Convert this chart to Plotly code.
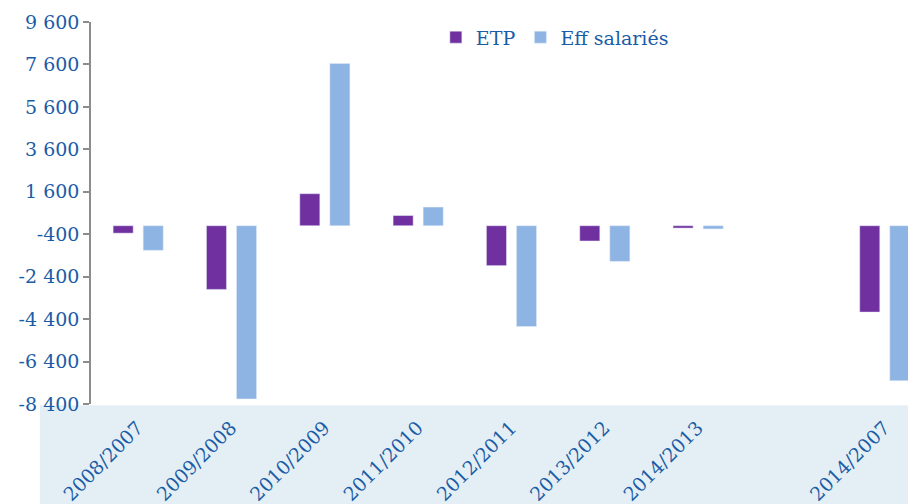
import plotly.graph_objects as go

categories = ["2008/2007", "2009/2008", "2010/2009", "2011/2010", "2012/2011",
              "2013/2012", "2014/2013", " ", "2014/2007"]
etp = [-350, -3000, 1510, 480, -1880, -720, -110, None, -4070]
eff_salaries = [-1160, -8160, 7650, 880, -4750, -1680, -150, None, -7300]
y_tick_values = [-8400, -6400, -4400, -2400, -400, 1600, 3600, 5600, 7600, 9600]
y_tick_labels = ["-8 400", "-6 400", "-4 400", "-2 400", "-400", "1 600",
                 "3 600", "5 600", "7 600", "9 600"]

BLUE_TXT = "#1a5ca6"
FONT = "DejaVu Serif"

fig = go.Figure()
fig.add_trace(go.Bar(x=categories, y=etp, name="ETP", marker_color="#7030a0",
                     width=0.215, offset=-0.263))
fig.add_trace(go.Bar(x=categories, y=eff_salaries, name="Eff salariés",
                     marker_color="#8eb4e3", width=0.215, offset=0.059))

# page body adds an 8px margin, so the figure is 8px smaller on each side
fig.update_layout(
    width=908, height=496,
    margin=dict(l=83, r=0, t=14, b=100, pad=0),
    paper_bgcolor="white", plot_bgcolor="white",
    barmode="group",
    showlegend=True,
    legend=dict(orientation="h", x=0.418, xanchor="left", y=0.96, yanchor="middle",
                font=dict(family=FONT, size=19, color=BLUE_TXT),
                bgcolor="rgba(0,0,0,0)", itemwidth=30),
    font=dict(family=FONT, color=BLUE_TXT),
    shapes=[dict(type="rect", xref="paper", yref="paper",
                 x0=-0.062, x1=1.0, y0=-0.3, y1=-0.0034,
                 fillcolor="#e4eff5", line=dict(width=0), layer="below")],
)
fig.update_xaxes(type="category", categoryorder="array", categoryarray=categories,
                 range=[-0.5, 8.34], showline=False, showgrid=False, ticks="",
                 tickangle=-45, tickfont=dict(family=FONT, size=19, color=BLUE_TXT),
                 ticklabelstandoff=8, zeroline=False)
fig.update_yaxes(range=[-8400, 9600], tickvals=y_tick_values, ticktext=y_tick_labels,
                 showline=True, linecolor="#8c8c8c", linewidth=1.5,
                 ticks="outside", ticklen=6, tickcolor="#8c8c8c", tickwidth=1.5,
                 showgrid=False, zeroline=False,
                 tickfont=dict(family=FONT, size=19, color=BLUE_TXT))

fig.write_html("out.html")
